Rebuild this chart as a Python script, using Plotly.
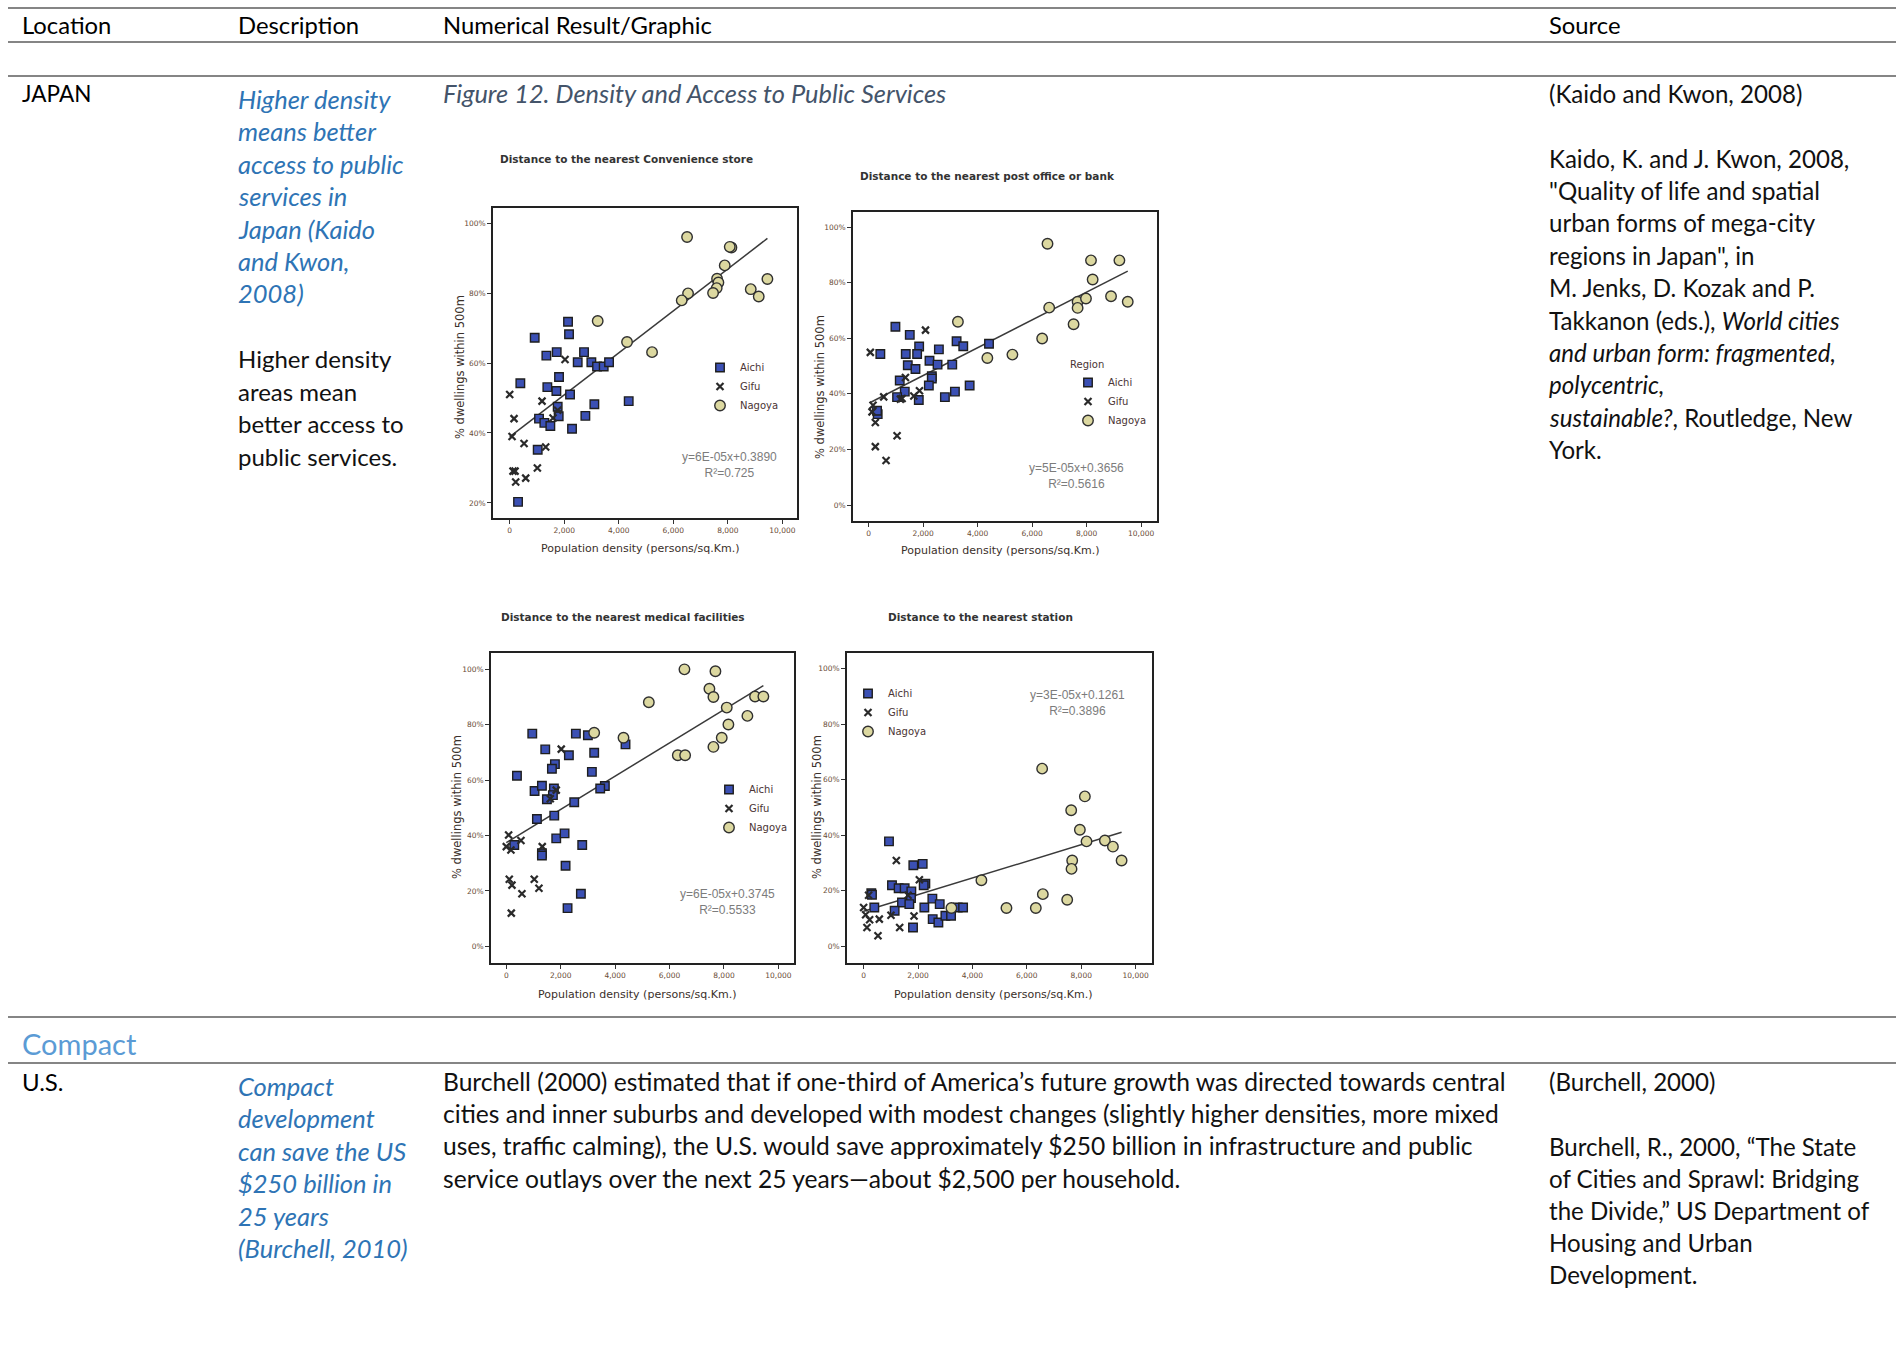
import plotly.graph_objects as go

W, H = 1896, 1354

# ---------------------------------------------------------------- data
# Share of dwellings within 500 m of a service vs. population density
# (persons / sq.km) for Aichi, Gifu and Nagoya municipalities.

store_aichi_density = [2139, 2176, 917, 1345, 1724, 2726, 2494, 2995, 3203, 3447, 3643, 391, 1809, 1381,
                       1712, 2213, 1760, 3105, 4364, 1076, 1271, 1491, 1797, 2775, 2286, 1027, 306]
store_aichi_share = [0.718, 0.682, 0.672, 0.621, 0.631, 0.631, 0.602, 0.602, 0.590, 0.590, 0.602, 0.542,
                     0.560, 0.531, 0.520, 0.510, 0.475, 0.482, 0.491, 0.441, 0.429, 0.420, 0.448, 0.449,
                     0.412, 0.352, 0.203]
store_gifu_density = [0, 2029, 1186, 159, 86, 526, 1320, 1760, 1589, 1015, 122, 196, 220, 587]
store_gifu_share = [0.510, 0.610, 0.491, 0.441, 0.390, 0.370, 0.360, 0.465, 0.443, 0.300, 0.291, 0.291,
                    0.260, 0.271]
store_nagoya_density = [6504, 8130, 8069, 7885, 7604, 7653, 7591, 7457, 6540, 6308, 8839, 9132, 9450,
                        3227, 4303, 5220]
store_nagoya_share = [0.960, 0.930, 0.932, 0.879, 0.841, 0.830, 0.814, 0.800, 0.799, 0.779, 0.811, 0.790,
                      0.840, 0.720, 0.660, 0.631]
store_fit = {"slope": 6e-05, "intercept": 0.3890, "r2": "0.725"}

post_aichi_density = [982, 1509, 1853, 2577, 3227, 3472, 4417, 429, 1362, 1779, 2233, 1436, 1718, 2528,
                      3068, 1141, 2319, 2319, 2209, 1325, 1043, 1840, 2798, 3166, 3706, 331, 307]
post_aichi_share = [0.641, 0.612, 0.570, 0.560, 0.589, 0.571, 0.580, 0.543, 0.543, 0.543, 0.519, 0.503,
                    0.489, 0.505, 0.505, 0.448, 0.463, 0.455, 0.430, 0.408, 0.388, 0.378, 0.388, 0.408,
                    0.430, 0.327, 0.339]
post_gifu_density = [61, 2086, 1350, 552, 160, 123, 245, 1227, 1657, 1865, 1043, 245, 638, 1166]
post_gifu_share = [0.549, 0.629, 0.459, 0.389, 0.359, 0.335, 0.297, 0.383, 0.392, 0.411, 0.249, 0.210,
                   0.160, 0.381]
post_nagoya_density = [6564, 8160, 9203, 8221, 6626, 7669, 7669, 7976, 8896, 9509, 7521, 6368, 3276,
                       4356, 5276]
post_nagoya_share = [0.940, 0.880, 0.880, 0.811, 0.710, 0.731, 0.709, 0.743, 0.751, 0.731, 0.650, 0.599,
                     0.659, 0.529, 0.541]
post_fit = {"slope": 5e-05, "intercept": 0.3656, "r2": "0.5616"}

medical_aichi_density = [955, 2558, 2999, 3231, 4382, 1432, 2301, 1787, 1677, 392, 3146, 1040, 1310, 1750,
                         1714, 1493, 3623, 3452, 2497, 1763, 1126, 1836, 2142, 294, 1310, 1310, 2791,
                         2179, 2742, 2252]
medical_aichi_share = [0.768, 0.768, 0.762, 0.699, 0.729, 0.711, 0.690, 0.658, 0.641, 0.616, 0.630, 0.561,
                       0.580, 0.570, 0.546, 0.531, 0.579, 0.570, 0.520, 0.472, 0.460, 0.390, 0.408, 0.366,
                       0.336, 0.328, 0.366, 0.291, 0.190, 0.138]
medical_gifu_density = [86, 0, 171, 539, 2020, 1836, 1616, 1322, 110, 208, 575, 1028, 1200, 184]
medical_gifu_share = [0.402, 0.360, 0.348, 0.382, 0.712, 0.564, 0.533, 0.360, 0.242, 0.221, 0.190, 0.242,
                      0.210, 0.120]
medical_nagoya_density = [6548, 7687, 7466, 7613, 9143, 9449, 8103, 8862, 8164, 7919, 7613, 6304, 6573,
                          5239, 4308, 3231]
medical_nagoya_share = [1.000, 0.993, 0.930, 0.900, 0.902, 0.902, 0.862, 0.832, 0.801, 0.753, 0.720,
                        0.690, 0.690, 0.881, 0.753, 0.771]
medical_fit = {"slope": 6e-05, "intercept": 0.3745, "r2": "0.5533"}

station_aichi_density = [933, 1828, 2172, 282, 307, 393, 1043, 1288, 1509, 1755, 1742, 1411, 1681, 2270,
                         2209, 2528, 2233, 2798, 1141, 2540, 2749, 3006, 3215, 3460, 3657, 1816]
station_aichi_share = [0.378, 0.292, 0.297, 0.191, 0.186, 0.140, 0.220, 0.209, 0.209, 0.198, 0.174, 0.158,
                       0.152, 0.226, 0.220, 0.172, 0.140, 0.152, 0.128, 0.098, 0.086, 0.110, 0.110, 0.140,
                       0.140, 0.068]
station_gifu_density = [1203, 2049, 1632, 184, 0, 74, 221, 123, 577, 528, 1006, 1325, 1853]
station_gifu_share = [0.309, 0.240, 0.184, 0.184, 0.140, 0.114, 0.096, 0.068, 0.098, 0.038, 0.112, 0.068,
                      0.109]
station_nagoya_density = [6564, 8135, 7632, 7951, 8196, 8871, 9166, 9485, 7669, 7644, 4331, 6589, 7485,
                          3227, 5252, 6331]
station_nagoya_share = [0.640, 0.540, 0.490, 0.420, 0.378, 0.381, 0.359, 0.309, 0.309, 0.279, 0.238,
                        0.188, 0.168, 0.138, 0.138, 0.138]
station_fit = {"slope": 3e-05, "intercept": 0.1261, "r2": "0.3896"}

panel_titles = ["Distance to the nearest Convenience store",
                "Distance to the nearest post office or bank",
                "Distance to the nearest medical facilities",
                "Distance to the nearest station"]
region_names = ["Aichi", "Gifu", "Nagoya"]
x_ticks = [0, 2000, 4000, 6000, 8000, 10000]
x_axis_label = "Population density (persons/sq.Km.)"
y_axis_label = "% dwellings within 500m"

# table text
header_labels = ["Location", "Description", "Numerical Result/Graphic", "Source"]
japan_location = "JAPAN"
japan_summary_lines = ["Higher density", "means better", "access to public", "services in",
                       "Japan (Kaido", "and Kwon,", "2008)"]
japan_detail_lines = ["Higher density", "areas mean", "better access to", "public services."]
figure_caption = "Figure 12. Density and Access to Public Services"
japan_source_lines = ["(Kaido and Kwon, 2008)", "",
                      "Kaido, K. and J. Kwon, 2008,",
                      "\"Quality of life and spatial",
                      "urban forms of mega-city",
                      "regions in Japan\", in",
                      "M. Jenks, D. Kozak and P.",
                      "Takkanon (eds.), <i>World cities</i>",
                      "<i>and urban form: fragmented,</i>",
                      "<i>polycentric,</i>",
                      "<i>sustainable?</i>, Routledge, New",
                      "York."]
section_heading = "Compact"
us_location = "U.S."
us_summary_lines = ["Compact", "development", "can save the US", "$250 billion in", "25 years",
                    "(Burchell, 2010)"]
us_body_lines = ["Burchell (2000) estimated that if one-third of America\u2019s future growth was directed towards central",
                 "cities and inner suburbs and developed with modest changes (slightly higher densities, more mixed",
                 "uses, traffic calming), the U.S. would save approximately $250 billion in infrastructure and public",
                 "service outlays over the next 25 years\u2014about $2,500 per household."]
us_source_lines = ["(Burchell, 2000)", "",
                   "Burchell, R., 2000, \u201cThe State",
                   "of Cities and Sprawl: Bridging",
                   "the Divide,\u201d US Department of",
                   "Housing and Urban",
                   "Development."]

# ---------------------------------------------------------------- styling
DOC_FONT = "Lato"
CHART_FONT = "DejaVu Sans"
BLUE_TEXT = "#2e74b5"
CAPTION = "#44546a"
AICHI_FILL = "#3b50b4"
NAGOYA_FILL = "#dcd8a0"
MARK_EDGE = "#1e1e1e"
CHART_TEXT = "#3a302a"


def px_x(p):
    return p / W


def px_y(p):
    return 1 - p / H


fig = go.Figure()

# panel frames in page pixels: left, right, top, bottom, plus axis ranges and label anchors
panels = [
    dict(frame=(493, 797, 208, 518), xr=[-612, 10535], yr=[0.157, 1.043],
         yt=[0.2, 0.4, 0.6, 0.8, 1.0], title_xy=(626, 159), xlab_xy=(640, 548), ylab_xy=(460, 367),
         legend_xy=(725, 367), eq_xy=(729, 458),
         data=[(store_aichi_density, store_aichi_share), (store_gifu_density, store_gifu_share),
               (store_nagoya_density, store_nagoya_share)], fit=store_fit, legend_title=None),
    dict(frame=(853, 1157, 212, 521), xr=[-575, 10583], yr=[-0.0575, 1.054],
         yt=[0, 0.2, 0.4, 0.6, 0.8, 1.0], title_xy=(987, 176), xlab_xy=(1000, 550), ylab_xy=(820, 387),
         legend_xy=(1093, 381), eq_xy=(1076, 469),
         data=[(post_aichi_density, post_aichi_share), (post_gifu_density, post_gifu_share),
               (post_nagoya_density, post_nagoya_share)], fit=post_fit, legend_title="Region"),
    dict(frame=(491, 794, 653, 963), xr=[-562, 10575], yr=[-0.06, 1.059],
         yt=[0, 0.2, 0.4, 0.6, 0.8, 1.0], title_xy=(623, 617), xlab_xy=(637, 994), ylab_xy=(457, 807),
         legend_xy=(734, 789), eq_xy=(727, 895),
         data=[(medical_aichi_density, medical_aichi_share), (medical_gifu_density, medical_gifu_share),
               (medical_nagoya_density, medical_nagoya_share)], fit=medical_fit, legend_title=None),
    dict(frame=(847, 1152, 653, 963), xr=[-611, 10603], yr=[-0.06, 1.0565],
         yt=[0, 0.2, 0.4, 0.6, 0.8, 1.0], title_xy=(980, 617), xlab_xy=(993, 994), ylab_xy=(817, 807),
         legend_xy=(873, 693), eq_xy=(1077, 696),
         data=[(station_aichi_density, station_aichi_share), (station_gifu_density, station_gifu_share),
               (station_nagoya_density, station_nagoya_share)], fit=station_fit, legend_title=None),
]

marker_styles = [
    dict(symbol="square", size=8.5, color=AICHI_FILL, line=dict(color=MARK_EDGE, width=1.4)),
    dict(symbol="x-thin", size=7, color="#2a2a2a", line=dict(color="#2a2a2a", width=2.2)),
    dict(symbol="circle", size=10.5, color=NAGOYA_FILL, line=dict(color="#303030", width=1.4)),
]

annotations = []
layout_axes = {}

for i, p in enumerate(panels, start=1):
    xa = "x" if i == 1 else f"x{i}"
    ya = "y" if i == 1 else f"y{i}"
    lg = "legend" if i == 1 else f"legend{i}"
    left, right, top, bottom = p["frame"]

    # fitted regression line across the observed density range
    all_x = [v for xs, _ in p["data"] for v in xs]
    fx = [min(all_x), max(all_x)]
    fy = [p["fit"]["slope"] * v + p["fit"]["intercept"] for v in fx]
    fig.add_trace(go.Scatter(x=fx, y=fy, mode="lines", xaxis=xa, yaxis=ya, showlegend=False,
                             line=dict(color="#3a3a3a", width=1.5), hoverinfo="skip"))
    for name, (xs, ys), ms in zip(region_names, p["data"], marker_styles):
        fig.add_trace(go.Scatter(x=xs, y=ys, mode="markers", name=name, xaxis=xa, yaxis=ya,
                                 marker=ms, legend=lg))

    axis_common = dict(showline=True, mirror=True, linecolor="#222", linewidth=1.8, showgrid=False,
                       zeroline=False, ticks="outside", ticklen=4, tickcolor="#333", tickwidth=1,
                       tickfont=dict(family=CHART_FONT, size=7.5, color="#6a4c36"))
    layout_axes["xaxis" if i == 1 else f"xaxis{i}"] = dict(
        axis_common, domain=[px_x(left), px_x(right)], range=p["xr"], tickvals=x_ticks,
        tickformat=",d", anchor=ya)
    layout_axes["yaxis" if i == 1 else f"yaxis{i}"] = dict(
        axis_common, domain=[px_y(bottom), px_y(top)], range=p["yr"], tickvals=p["yt"],
        tickformat=".0%", anchor=xa)

    lx, ly = p["legend_xy"]
    legend_cfg = dict(x=px_x(lx - 25), y=px_y(ly - 14), xanchor="left", yanchor="top",
                      bgcolor="rgba(0,0,0,0)", borderwidth=0, tracegroupgap=0, itemwidth=30,
                      font=dict(family=CHART_FONT, size=10, color="#4a3434"))
    if p["legend_title"]:
        legend_cfg["title"] = dict(text=p["legend_title"],
                                   font=dict(family=CHART_FONT, size=10, color="#4a3434"))
        legend_cfg["y"] = px_y(ly - 26)
    layout_axes[lg] = legend_cfg

    tx, ty = p["title_xy"]
    annotations.append(dict(text=f"<b>{panel_titles[i - 1]}</b>", x=px_x(tx), y=px_y(ty),
                            font=dict(family=CHART_FONT, size=10.5, color="#333")))
    bx, by = p["xlab_xy"]
    annotations.append(dict(text=x_axis_label, x=px_x(bx), y=px_y(by),
                            font=dict(family=CHART_FONT, size=11, color=CHART_TEXT)))
    vx, vy = p["ylab_xy"]
    annotations.append(dict(text=y_axis_label, x=px_x(vx), y=px_y(vy), textangle=-90,
                            font=dict(family=CHART_FONT, size=11.5, color=CHART_TEXT)))
    ex, ey = p["eq_xy"]
    eq_text = f"y={p['fit']['slope']:.0E}x+{p['fit']['intercept']:.4f}<br>R\u00b2={p['fit']['r2']}"
    annotations.append(dict(text=eq_text, x=px_x(ex), y=px_y(ey + 7),
                            font=dict(family="Liberation Sans", size=12, color="#7c7c7c")))

for a in annotations:
    a.update(xref="paper", yref="paper", showarrow=False, xanchor="center", yanchor="middle")


# ---------------------------------------------------------------- table text
def add_lines(lines, x, y0, step, size=24, color="#111", style="normal", family=DOC_FONT):
    for k, line in enumerate(lines):
        if not line:
            continue
        annotations.append(dict(text=line, x=px_x(x - 3), y=px_y(y0 + k * step), xref="paper",
                                yref="paper", showarrow=False, xanchor="left", yanchor="middle",
                                font=dict(family=family, size=size, color=color, style=style)))


for label, hx in zip(header_labels, [23, 239, 444, 1550]):
    add_lines([label], hx, 25, 0, size=23.8, color="#000")

add_lines([japan_location], 23, 93, 0, size=22.5, color="#000")
add_lines(japan_summary_lines, 239, 99, 32.4, size=25.5, color=BLUE_TEXT, style="italic")
add_lines(japan_detail_lines, 239, 358.5, 32.5, size=24)
add_lines([figure_caption], 444, 93, 0, size=25.4, color=CAPTION, style="italic")
add_lines(japan_source_lines, 1550, 93.3, 32.4, size=24.1)

add_lines([section_heading], 23, 1043, 0, size=29, color="#5b9bd5")
add_lines([us_location], 23, 1081, 0, size=24, color="#000")
add_lines(us_summary_lines, 239, 1086, 32.4, size=25.5, color=BLUE_TEXT, style="italic")
add_lines(us_body_lines, 444, 1081, 32.4, size=24.6)
add_lines(us_source_lines, 1550, 1081.7, 32.2, size=24.1)

# horizontal table rules
rules = [8, 42, 76, 1017, 1063]
shapes = [dict(type="line", xref="paper", yref="paper", x0=px_x(8), x1=1, y0=px_y(r), y1=px_y(r),
               line=dict(color="#858585", width=2)) for r in rules]

fig.update_layout(width=W, height=H, margin=dict(l=0, r=0, t=0, b=0), paper_bgcolor="white",
                  plot_bgcolor="white", annotations=annotations, shapes=shapes, **layout_axes)

fig.write_html("out.html")
